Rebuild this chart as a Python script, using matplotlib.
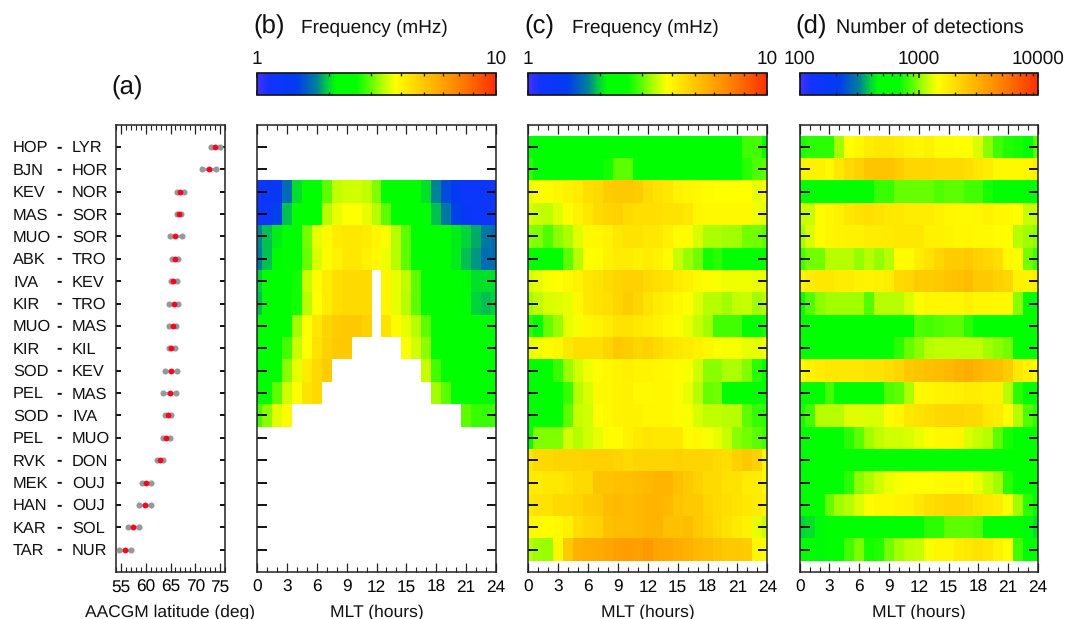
import numpy as np
import matplotlib
matplotlib.use("Agg")
import matplotlib.pyplot as plt
from matplotlib.colors import LinearSegmentedColormap, LogNorm
from matplotlib.cm import ScalarMappable
from matplotlib.ticker import FixedLocator, NullFormatter, NullLocator

plt.rcParams['font.family'] = ['Liberation Sans', 'DejaVu Sans']
plt.rcParams['text.hinting'] = 'no_hinting'

W, H = 1069, 619
N = float('nan')

stations_left = ["HOP", "BJN", "KEV", "MAS", "MUO", "ABK", "IVA", "KIR", "MUO", "KIR",
                 "SOD", "PEL", "SOD", "PEL", "RVK", "MEK", "HAN", "KAR", "TAR"]
stations_right = ["LYR", "HOR", "NOR", "SOR", "SOR", "TRO", "KEV", "TRO", "MAS", "KIL",
                  "KEV", "MAS", "IVA", "MUO", "DON", "OUJ", "OUJ", "SOL", "NUR"]
lat_mid = [74.0, 72.7, 67.0, 66.7, 66.0, 65.9, 65.6, 65.65, 65.45, 65.2,
           65.1, 64.9, 64.5, 64.1, 62.8, 60.1, 59.9, 57.5, 55.8]
lat_low = [73.1, 71.4, 66.4, 66.3, 64.8, 65.3, 65.1, 64.7, 64.7, 64.7,
           63.9, 63.5, 63.9, 63.5, 62.2, 59.2, 58.7, 56.5, 54.6]
lat_high = [74.9, 74.1, 67.75, 67.2, 67.3, 66.6, 66.3, 66.6, 66.2, 65.95,
            66.3, 66.2, 65.2, 64.8, 63.5, 61.1, 61.1, 58.6, 57.0]

mlt_edges = [0, 0.5, 1.5, 2.5, 3.5, 4.5, 5.5, 6.5, 7.5, 8.5, 9.5, 10.5, 11.5, 12.5, 13.5,
             14.5, 15.5, 16.5, 17.5, 18.5, 19.5, 20.5, 21.5, 22.5, 23.5, 24]

freq_b = [
 [N]*25,
 [N]*25,
 [1.25,1.3,1.35,1.7,2.05,2.4,2.4,3.0,3.45,3.55,3.55,3.45,3.15,2.5,2.4,2.4,2.4,2.05,1.8,1.55,1.4,1.25,1.25,1.25,1.25],
 [1.25,1.25,1.5,1.95,2.3,2.4,2.6,3.4,3.7,3.85,3.85,3.7,3.4,3.0,2.4,2.4,2.4,2.3,1.95,1.75,1.5,1.35,1.25,1.25,1.25],
 [1.8,1.95,2.1,2.4,2.4,3.1,3.7,3.95,4.2,4.3,4.3,4.2,4.0,3.8,3.4,3.0,2.4,2.4,2.4,2.3,2.1,2.0,1.9,1.75,1.7],
 [1.75,1.95,2.15,2.4,2.4,3.05,3.6,3.9,4.1,4.3,4.3,4.1,3.95,3.75,3.4,3.0,2.4,2.4,2.4,2.25,2.1,1.95,1.85,1.7,1.7],
 [2.0,2.2,2.4,2.4,2.7,3.5,3.9,4.2,4.5,4.6,4.6,4.6,N,4.0,3.7,3.45,3.0,2.4,2.4,2.4,2.3,2.15,2.05,2.05,2.05],
 [1.95,2.2,2.4,2.4,2.7,3.4,3.85,4.2,4.5,4.6,4.6,4.6,N,4.0,3.7,3.4,3.0,2.4,2.4,2.4,2.3,2.15,2.0,1.95,2.0],
 [2.4,2.4,2.4,2.4,3.3,3.85,4.3,4.7,4.9,5.0,5.0,4.8,N,4.4,3.9,3.7,3.4,3.0,2.4,2.4,2.4,2.4,2.3,2.25,2.4],
 [2.4,2.4,2.4,2.9,3.5,3.85,4.4,4.8,5.0,5.0,N,N,N,N,N,3.85,3.55,3.2,2.4,2.4,2.4,2.4,2.4,2.35,2.4],
 [2.4,2.4,2.4,3.2,3.7,4.2,4.6,4.9,N,N,N,N,N,N,N,N,N,3.5,2.9,2.4,2.4,2.4,2.4,2.4,2.4],
 [2.4,2.4,3.0,3.55,3.85,4.4,4.6,N,N,N,N,N,N,N,N,N,N,N,3.3,3.0,2.4,2.4,2.4,2.4,2.4],
 [2.9,3.2,3.65,3.9,N,N,N,N,N,N,N,N,N,N,N,N,N,N,N,N,N,3.0,2.85,2.85,2.9],
 [N]*25,
 [N]*25,
 [N]*25,
 [N]*25,
 [N]*25,
 [N]*25,
]

freq_c = [
 [2.4,2.4,2.4,2.4,2.4,2.3,2.3,2.4,2.4,2.4,2.4,2.4,2.4,2.4,2.4,2.4,2.4,2.4,2.4,2.4,2.4,2.4,2.9,2.9,2.5],
 [2.8,2.4,2.4,2.4,2.4,2.4,2.4,2.4,2.7,3.0,3.0,2.4,2.4,2.4,2.4,2.4,2.5,2.4,2.4,2.4,2.4,2.4,2.8,2.95,3.0],
 [3.7,3.85,3.9,4.0,4.1,4.2,4.5,4.6,4.9,5.0,5.0,4.9,4.6,4.4,4.3,4.1,4.0,3.95,3.9,3.85,3.85,3.85,3.85,3.7,3.8],
 [3.6,3.5,3.45,3.65,3.9,4.1,4.3,4.6,4.7,4.8,4.6,4.5,4.5,4.5,4.4,4.4,4.3,4.0,3.95,3.95,3.95,3.95,3.95,3.75,3.7],
 [3.2,3.15,2.95,3.2,3.35,3.65,3.95,4.0,4.1,4.3,4.4,4.4,4.3,4.3,4.1,3.9,3.9,3.6,3.35,3.35,3.3,3.3,3.1,3.1,3.0],
 [2.4,2.4,2.4,2.4,3.0,3.4,3.85,3.9,4.1,4.2,4.2,4.1,4.2,4.1,3.9,3.5,3.25,3.1,2.7,2.8,2.4,2.4,2.4,2.4,2.4],
 [3.6,3.7,3.8,3.85,3.95,4.1,4.3,4.4,4.6,4.7,4.8,4.8,4.6,4.5,4.4,4.2,4.1,3.95,3.9,3.8,3.75,3.75,3.75,3.7,3.75],
 [3.3,3.45,3.6,3.65,3.7,3.95,4.3,4.4,4.5,4.7,4.9,4.7,4.4,4.2,4.1,3.95,3.85,3.65,3.4,3.4,3.3,3.45,3.5,3.3,3.4],
 [2.8,2.6,3.05,3.25,3.7,3.8,4.0,4.05,4.2,4.4,4.4,4.3,4.2,4.1,3.95,3.9,3.7,3.5,3.3,2.9,2.9,2.9,2.6,2.6,2.7],
 [3.7,3.75,3.9,4.0,4.3,4.5,4.5,4.5,4.7,5.0,4.9,4.7,4.8,4.6,4.4,4.3,4.2,4.1,4.0,3.85,3.8,3.8,3.7,3.7,3.8],
 [2.4,2.4,2.4,2.85,3.25,3.55,3.75,3.9,3.95,4.05,4.15,4.05,4.05,4.0,3.95,3.9,3.8,3.55,3.2,3.2,3.35,3.35,3.15,2.8,2.6],
 [2.4,2.4,2.4,2.4,2.85,3.4,3.6,3.95,3.95,4.05,4.1,3.95,3.95,4.0,4.0,3.9,3.7,3.4,3.05,3.1,2.6,2.4,2.4,2.4,2.4],
 [2.45,2.4,2.4,2.6,3.0,3.5,3.55,3.85,3.95,4.05,4.1,4.1,4.0,4.0,4.0,3.9,3.8,3.6,3.45,3.45,3.4,3.4,3.0,2.85,2.8],
 [2.5,3.15,3.15,3.15,3.55,3.4,3.55,3.7,3.9,3.9,4.1,4.25,4.35,4.3,4.3,4.3,3.9,3.95,3.8,3.7,3.5,3.2,3.1,3.0,2.9],
 [4.3,4.6,4.6,4.7,4.7,4.7,4.8,4.8,4.8,4.7,4.6,4.7,4.7,4.7,4.7,4.8,4.7,4.7,4.7,4.6,4.5,4.8,5.0,4.8,4.0],
 [4.2,4.2,4.3,4.3,4.4,4.6,4.6,5.1,5.1,5.2,5.2,5.3,5.4,5.5,5.5,5.2,5.0,4.8,4.6,4.6,4.4,4.4,4.2,4.2,3.95],
 [4.3,4.4,4.4,4.6,4.6,4.7,4.9,5.0,5.3,5.4,5.3,5.4,5.5,5.5,5.4,5.1,5.0,5.0,4.7,4.6,4.5,4.4,4.3,4.2,4.1],
 [4.0,3.95,3.9,3.95,4.1,4.5,4.7,4.8,5.2,5.3,5.3,5.4,5.5,5.5,5.2,5.2,5.3,5.0,4.8,4.6,4.4,4.2,4.1,3.7,3.5],
 [3.4,3.3,3.25,3.95,5.0,5.6,5.7,5.8,5.9,6.1,6.2,6.1,6.3,6.0,5.9,5.7,5.6,5.4,5.3,5.1,5.0,5.0,4.9,4.0,3.9],
]

count_d = [
 [740,780,780,780,1090,1480,1600,1760,1850,1850,1760,1640,1600,1680,1520,1520,1480,1480,1300,1020,840,760,730,580,900],
 [1680,1680,1680,1560,1850,2120,2300,2600,2600,2600,2400,2200,2200,2200,2120,2120,2120,2020,1850,1760,1560,1560,1560,1600,1760],
 [580,580,580,580,580,580,580,680,810,810,930,930,930,930,870,900,900,840,840,730,580,580,580,580,580],
 [1220,1220,1520,1600,1680,1850,1940,2020,1940,1850,1850,1760,1760,1760,1680,1600,1560,1560,1600,1680,1600,1560,1480,1220,1220],
 [1090,1300,1520,1600,1640,1680,1680,1760,1760,1800,1850,1850,1850,1680,1680,1640,1600,1600,1560,1560,1520,1480,1160,1090,1020],
 [840,960,960,1160,1160,1160,1050,1160,1050,1160,1520,1520,1760,1940,2200,2400,2400,2500,2300,2200,2020,1560,1440,960,840],
 [1640,1760,1850,1850,1760,1760,1680,1640,1680,1760,2120,2200,2400,2400,2500,2600,2700,2800,2500,2500,2300,2200,1680,1640,1760],
 [640,880,1020,1090,1090,1090,1090,880,1160,1160,1160,1300,1520,1600,1600,1600,1600,1680,1600,1600,1560,1560,1020,580,580],
 [580,580,580,580,580,580,580,580,580,580,580,580,870,840,870,900,900,780,620,580,580,580,580,580,580],
 [580,580,580,580,580,580,580,580,580,580,780,930,1020,1160,1190,1190,1190,1190,1190,1090,1020,960,580,580,580],
 [1520,1680,1760,1850,1850,1850,1850,1940,1940,2020,2200,2500,2600,2700,2800,2900,3140,3250,3000,2800,2700,2400,1850,1680,1520],
 [580,580,580,840,580,580,580,580,580,870,900,1120,1560,1600,1640,1680,1720,1760,1760,1680,1680,1160,780,580,580],
 [730,840,1160,1160,1160,1330,1330,1300,1300,1520,1600,1850,1940,2020,2120,2200,2200,2120,2120,1850,1760,1520,1160,870,780],
 [580,580,580,580,580,780,900,1090,1190,1260,1260,1300,1370,1520,1560,1560,1600,1300,1220,1160,900,730,580,580,580],
 [460,480,530,510,510,580,580,580,580,580,580,580,580,580,580,580,580,580,580,580,580,580,530,510,480],
 [580,580,580,580,580,780,1020,1120,1260,1370,1440,1480,1480,1480,1520,1560,1560,1520,1370,1220,1090,780,580,580,580],
 [580,580,580,930,1090,1160,1300,1520,1600,1600,1640,1680,1850,2020,2120,2200,2200,2120,1940,1850,1760,1440,1090,780,620],
 [400,420,460,500,580,580,580,580,580,580,580,580,580,780,780,900,900,900,870,580,580,580,580,460,420],
 [550,550,460,580,580,840,990,730,760,960,1090,1190,1220,1440,1600,1600,1760,1850,1940,1850,1680,1480,840,600,580],
]

cmap_stops = [
 (0.00, (70, 50, 255)), (0.05, (20, 50, 255)), (0.17, (0, 60, 240)), (0.255, (0, 130, 150)),
 (0.30, (0, 210, 60)), (0.335, (0, 255, 0)), (0.42, (0, 255, 0)), (0.477, (90, 255, 0)),
 (0.53, (180, 255, 0)), (0.585, (255, 255, 0)), (0.70, (255, 200, 0)), (0.85, (255, 130, 0)),
 (1.00, (255, 50, 0)),
]
cmap = LinearSegmentedColormap.from_list(
    "mag", [(t, tuple(c / 255 for c in rgb)) for t, rgb in cmap_stops], N=512)

minor_freq = [2, 3, 4, 5, 6, 7, 8, 9]
minor_count = [200, 300, 400, 500, 600, 700, 800, 900,
               2000, 3000, 4000, 5000, 6000, 7000, 8000, 9000]


def box(x0, y0, x1, y1):
    return [x0 / W, 1 - y1 / H, (x1 - x0) / W, (y1 - y0) / H]


def px(x, y):
    return x / W, 1 - y / H


fig = plt.figure(figsize=(W / 100, H / 100), dpi=100)
PX = 0.72
TOP, BOT = 124.5, 572
rows = np.arange(1, 20)
row_edges = np.arange(0.5, 20.0, 1.0)


def style_axes(ax, ylen_px):
    for s in ax.spines.values():
        s.set_linewidth(1.1)
        s.set_color('#222222')
    ax.set_ylim(20, 0)
    ax.set_yticks(rows)
    ax.yaxis.set_minor_locator(NullLocator())
    ax.set_yticklabels([])
    ax.tick_params(axis='y', which='major', direction='in', left=True, right=True,
                   length=ylen_px * PX, width=1.3, color='black')
    ax.tick_params(axis='x', which='major', direction='in', top=True, bottom=True,
                   length=9 * PX, width=0.9, labelsize=12.4, pad=5.5, color='#222222')
    ax.tick_params(axis='x', which='minor', direction='in', top=True, bottom=True,
                   length=5 * PX, width=0.8, color='#222222')


# panel (a)
ax_a = fig.add_axes(box(116, TOP, 225, BOT))
ax_a.set_xlim(54, 76)
style_axes(ax_a, 5)
ax_a.set_xticks([55, 60, 65, 70, 75])
ax_a.xaxis.set_minor_locator(FixedLocator(np.arange(54, 77)))
ax_a.hlines(rows, lat_low, lat_high, color='#a6a6a6', lw=2.2, zorder=3)
ax_a.plot(lat_low, rows, 'o', color='#989898', ms=4.4, mew=0, zorder=3)
ax_a.plot(lat_high, rows, 'o', color='#989898', ms=4.4, mew=0, zorder=3)
ax_a.plot(lat_mid, rows, 'o', color='#ff0020', ms=4.2, mew=0, zorder=4)
for r, a, b in zip(rows, stations_left, stations_right):
    y = ax_a.transData.transform((0, r))[1] / H - 1.3 / H
    fig.text(13 / W, y, a, ha='left', va='center', fontsize=11.8, color='#111111')
    fig.text(59.5 / W, y + 1.5 / H, "-", ha='center', va='center', fontsize=11.8, color='#111111',
             fontweight='bold')
    fig.text(72 / W, y, b, ha='left', va='center', fontsize=11.8, color='#111111')

# panels (b), (c), (d)
panels = [
    (257.3, 495.7, freq_b, LogNorm(1, 10), [1, 10], ["1", "10"], minor_freq),
    (528.3, 767.3, freq_c, LogNorm(1, 10), [1, 10], ["1", "10"], minor_freq),
    (799.7, 1038.0, count_d, LogNorm(100, 10000), [100, 1000, 10000], ["100", "1000", "10000"], minor_count),
]
for x0, x1, grid, norm, cticks, clabels, cminor in panels:
    ax = fig.add_axes(box(x0, TOP, x1, BOT))
    ax.pcolormesh(mlt_edges, row_edges, np.ma.masked_invalid(np.array(grid, dtype=float)),
                  cmap=cmap, norm=norm, shading='flat', linewidth=0, rasterized=True)
    ax.set_xlim(0, 24)
    style_axes(ax, 9.5)
    ax.set_xticks(np.arange(0, 25, 3))
    ax.xaxis.set_minor_locator(FixedLocator(np.arange(0, 25)))

    cax = fig.add_axes(box(x0, 72.7, x1, 95.3))
    cb = fig.colorbar(ScalarMappable(norm=norm, cmap=cmap), cax=cax, orientation='horizontal')
    cb.solids.set_edgecolor('face')
    cb.outline.set_linewidth(1.2)
    cb.outline.set_edgecolor('#111111')
    cax.xaxis.set_ticks_position('both')
    cax.xaxis.set_ticks(cticks)
    cax.xaxis.set_ticklabels([])
    cax.xaxis.set_minor_locator(FixedLocator(cminor))
    cax.xaxis.set_minor_formatter(NullFormatter())
    cax.tick_params(axis='x', which='major', direction='in', length=5 * PX, width=1.1,
                    top=True, bottom=True, color='#222222')
    cax.tick_params(axis='x', which='minor', direction='in', length=3 * PX, width=1.0,
                    top=True, bottom=True, color='#222222')
    for v, s in zip(cticks, clabels):
        xpx = x0 + (x1 - x0) * float(norm(v))
        fig.text(xpx / W, 1 - 59 / H, s, ha='center', va='center', fontsize=13.7, color='#111111')

# labels
fig.text(*px(170.5, 612), "AACGM latitude (deg)", ha='center', va='center', fontsize=12.5, color='#111111')
for xc in (376.5, 647.8, 918.8):
    fig.text(*px(xc, 612), "MLT (hours)", ha='center', va='center', fontsize=12.6, color='#111111')

fig.text(*px(111, 88), "(a)", ha='left', va='center', fontsize=18.5, color='#111111')
fig.text(*px(253, 27), "(b)", ha='left', va='center', fontsize=18.5, color='#111111')
fig.text(*px(524, 27), "(c)", ha='left', va='center', fontsize=18.5, color='#111111')
fig.text(*px(795, 27), "(d)", ha='left', va='center', fontsize=18.5, color='#111111')
fig.text(*px(301, 28), "Frequency (mHz)", ha='left', va='center', fontsize=13.7, color='#111111')
fig.text(*px(572, 28), "Frequency (mHz)", ha='left', va='center', fontsize=13.7, color='#111111')
fig.text(*px(836, 28), "Number of detections", ha='left', va='center', fontsize=14.2, color='#111111')

fig.savefig("out.png", dpi=100)
